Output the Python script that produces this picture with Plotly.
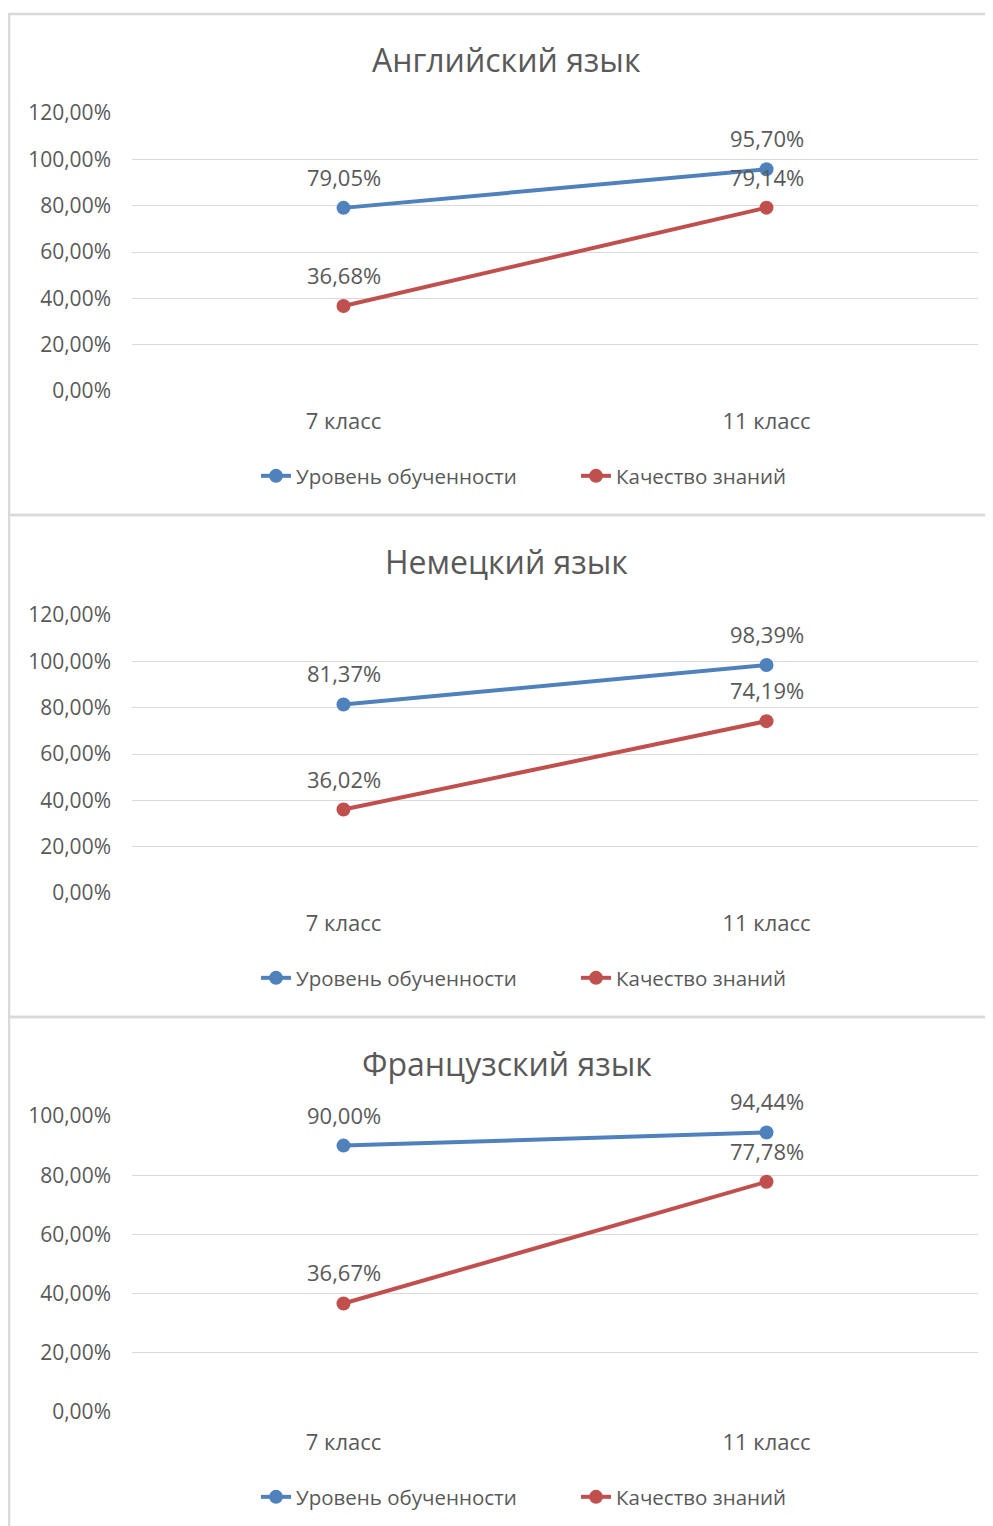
import plotly.graph_objects as go

categories = ["7 класс", "11 класс"]
titles = ["Английский язык", "Немецкий язык", "Французский язык"]
series_names = ["Уровень обученности", "Качество знаний"]
eng_level = [0.7905, 0.9570]
eng_quality = [0.3668, 0.7914]
ger_level = [0.8137, 0.9839]
ger_quality = [0.3602, 0.7419]
fr_level = [0.9000, 0.9444]
fr_quality = [0.3667, 0.7778]
y_max = [1.2, 1.2, 1.0]

panels = [(eng_level, eng_quality), (ger_level, ger_quality), (fr_level, fr_quality)]
colors = ["#4F81BD", "#C0504D"]
W, H = 993, 1526
OFF = 8  # page body margin offset
FONT = "Open Sans"
GRAY = "#595959"

def py(px):
    return 1 - (px - OFF) / H

def pxx(px):
    return (px - OFF) / W

# plot area pixel extents (top, bottom) per panel, in page coordinates
plot_px = [(113, 391), (615, 893), (1116, 1412)]
title_px = [60, 562, 1063]
legend_px = [476, 978, 1497]

fig = go.Figure()
annotations = []
for i, (lvl, qual) in enumerate(panels):
    n = "" if i == 0 else str(i + 1)
    for j, vals in enumerate([lvl, qual]):
        fig.add_trace(go.Scatter(
            x=categories, y=vals, name=series_names[j], mode="lines+markers",
            line=dict(color=colors[j], width=4),
            marker=dict(color=colors[j], size=14),
            xaxis="x" + n, yaxis="y" + n, legend="legend" + n,
            hoverinfo="skip",
        ))
        for c, v in zip(categories, vals):
            annotations.append(dict(
                x=c, y=v, xref="x" + n, yref="y" + n, yshift=31,
                text=f"{v*100:.2f}%".replace(".", ","), showarrow=False,
                font=dict(family=FONT, size=22, color=GRAY),
            ))
    annotations.append(dict(
        x=pxx(507), y=py(title_px[i]), xref="paper", yref="paper",
        text=titles[i], showarrow=False, xanchor="center", yanchor="middle",
        font=dict(family=FONT, size=32, color=GRAY),
    ))

layout = dict(
    width=W, height=H, margin=dict(l=0, r=0, t=0, b=0, autoexpand=False),
    paper_bgcolor="white", plot_bgcolor="white",
    separators=", ", annotations=annotations,
    font=dict(family=FONT, color=GRAY),
)
for i in range(3):
    n = "" if i == 0 else str(i + 1)
    top, bot = plot_px[i]
    layout["xaxis" + n] = dict(
        domain=[pxx(132), pxx(978)], type="category", range=[-0.5, 1.5],
        anchor="y" + n, showgrid=False, showline=False, ticks="", automargin=False,
        tickfont=dict(family=FONT, size=22, color=GRAY), ticklabelstandoff=15,
    )
    layout["yaxis" + n] = dict(
        domain=[py(bot), py(top)], range=[0, y_max[i]], dtick=0.2,
        anchor="x" + n, showgrid=True, gridcolor="#d9d9d9", gridwidth=1,
        zeroline=False, showline=False, ticks="", tickformat=".2%", automargin=False,
        tickfont=dict(family=FONT, size=21, color=GRAY), ticklabelstandoff=20,
    )
    layout["legend" + n] = dict(
        orientation="h", x=pxx(256), xanchor="left", y=py(legend_px[i]),
        yanchor="middle", font=dict(family=FONT, size=20.5, color=GRAY),
        bgcolor="rgba(0,0,0,0)", itemclick=False, entrywidth=275,
    )

shapes = []
# panel borders
for y0, y1 in [(14, 515), (515, 1017), (1017, 1545)]:
    shapes.append(dict(type="rect", xref="paper", yref="paper",
                       x0=pxx(9), x1=1.03, y0=py(y1), y1=py(y0),
                       line=dict(color="#d9d9d9", width=2.5)))
layout["shapes"] = shapes

fig.update_layout(**layout)
fig.write_html("out.html")
